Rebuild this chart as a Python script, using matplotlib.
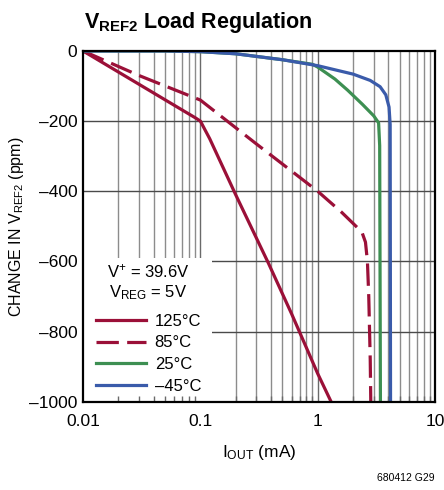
import matplotlib
matplotlib.use("Agg")
import matplotlib.pyplot as plt
import matplotlib.ticker as mticker
from matplotlib.patches import Rectangle

plt.rcParams['font.family'] = ['Liberation Sans', 'DejaVu Sans']
plt.rcParams['mathtext.fontset'] = 'custom'
plt.rcParams['mathtext.rm'] = 'Liberation Sans'
plt.rcParams['mathtext.it'] = 'Liberation Sans'
plt.rcParams['mathtext.bf'] = 'Liberation Sans:bold'

# curves (I_OUT in mA, change in ppm)
iout_125 = [0.01, 0.03, 0.06, 0.09, 0.1, 0.12, 0.2, 0.38, 0.6, 1.0, 1.3]
ppm_125 = [0, -95, -155, -190, -200, -250, -410, -605, -750, -920, -1000]

iout_85 = [0.01, 0.03, 0.1, 0.3, 1.0, 1.6, 2.2, 2.4, 2.55, 2.65, 2.72, 2.8, 2.83]
ppm_85 = [0, -70, -140, -265, -400, -460, -505, -520, -545, -600, -700, -880, -1000]

iout_25 = [0.01, 0.05, 0.1, 0.2, 0.5, 0.9, 1.0, 1.4, 1.8, 2.4, 3.0, 3.3, 3.37, 3.42]
ppm_25 = [0, 0, -2, -8, -25, -38, -46, -80, -112, -152, -185, -205, -270, -1000]

iout_m45 = [0.01, 0.05, 0.1, 0.2, 0.5, 1.0, 2.0, 2.8, 3.4, 3.8, 4.05, 4.14, 4.17]
ppm_m45 = [0, 0, -2, -8, -25, -42, -66, -84, -102, -125, -160, -210, -1000]

series_labels = ['125°C', '85°C', '25°C', '–45°C']
y_ticks = [0, -200, -400, -600, -800, -1000]
x_ticks = [0.01, 0.1, 1, 10]
x_ticklabels = ['0.01', '0.1', '1', '10']

RED = '#9B1038'
GREEN = '#3D8F52'
BLUE = '#3A5BAA'

fig = plt.figure(figsize=(4.44, 4.90), dpi=100)
ax = fig.add_axes([0.187, 0.18, 0.793, 0.716])
ax.set_xscale('log')
ax.set_xlim(0.01, 10)
ax.set_ylim(-1000, 0)

# grid drawn by hand so the legend box can sit over it but under the ticks
minors = [m * 10.0 ** e for e in (-2, -1, 0) for m in range(2, 10)]
for xv in minors:
    ax.axvline(xv, color='#8c8c8c', lw=1.0, zorder=0.3)
for xv in x_ticks[1:-1]:
    ax.axvline(xv, color='#6a6a6a', lw=1.0, zorder=0.3)
for yv in y_ticks[1:-1]:
    ax.axhline(yv, color='#4a4a4a', lw=1.0, zorder=0.3)

ax.add_patch(Rectangle((0.0, 0.0), 0.365, 0.41, transform=ax.transAxes,
                       facecolor='white', edgecolor='none', zorder=0.6))

lw = 2.3
l1, = ax.plot(iout_125, ppm_125, color=RED, lw=lw, zorder=3)
l2, = ax.plot(iout_85, ppm_85, color=RED, lw=lw, dashes=(7, 2.6), zorder=3)
l3, = ax.plot(iout_25, ppm_25, color=GREEN, lw=lw, zorder=3)
l4, = ax.plot(iout_m45, ppm_m45, color=BLUE, lw=lw, zorder=4)

ax.set_xticks(x_ticks)
ax.set_xticklabels(x_ticklabels)
ax.xaxis.set_minor_locator(mticker.FixedLocator(minors))
ax.xaxis.set_minor_formatter(mticker.NullFormatter())
ax.set_yticks(y_ticks)
ax.set_yticklabels([str(v).replace('-', '–') for v in y_ticks])
ax.tick_params(which='both', direction='in', labelsize=12.5, color='#6a6a6a')
ax.tick_params(axis='y', which='major', length=0, pad=4)
ax.tick_params(axis='x', which='major', length=0, pad=9)
ax.tick_params(which='minor', length=4, width=1.0)
for s in ax.spines.values():
    s.set_linewidth(1.6)
    s.set_zorder(5)

ax.set_xlabel(r'I$_{\mathrm{OUT}}$ (mA)', fontsize=12.5, labelpad=10)
ax.set_ylabel(r'CHANGE IN V$_{\mathrm{REF2}}$ (ppm)', fontsize=11.5, labelpad=2)

fig.text(0.19, 0.955, r'$\mathbf{V_{REF2}}$ Load Regulation', fontsize=15.5,
         fontweight='bold', ha='left', va='center')
fig.text(0.98, 0.025, '680412 G29', fontsize=7.5, ha='right', va='center')

ax.text(0.185, 0.372, 'V$^{+}$ = 39.6V', transform=ax.transAxes, fontsize=12,
        ha='center', va='center', zorder=6)
ax.text(0.185, 0.31, r'V$_{\mathrm{REG}}$ = 5V', transform=ax.transAxes, fontsize=12,
        ha='center', va='center', zorder=6)
ax.legend([l1, l2, l3, l4], series_labels, loc='lower left',
          bbox_to_anchor=(0.0, -0.015), frameon=False, fontsize=12,
          handlelength=3.0, handletextpad=0.5, labelspacing=0.4,
          borderaxespad=0.4)

fig.savefig('out.png', dpi=100)
